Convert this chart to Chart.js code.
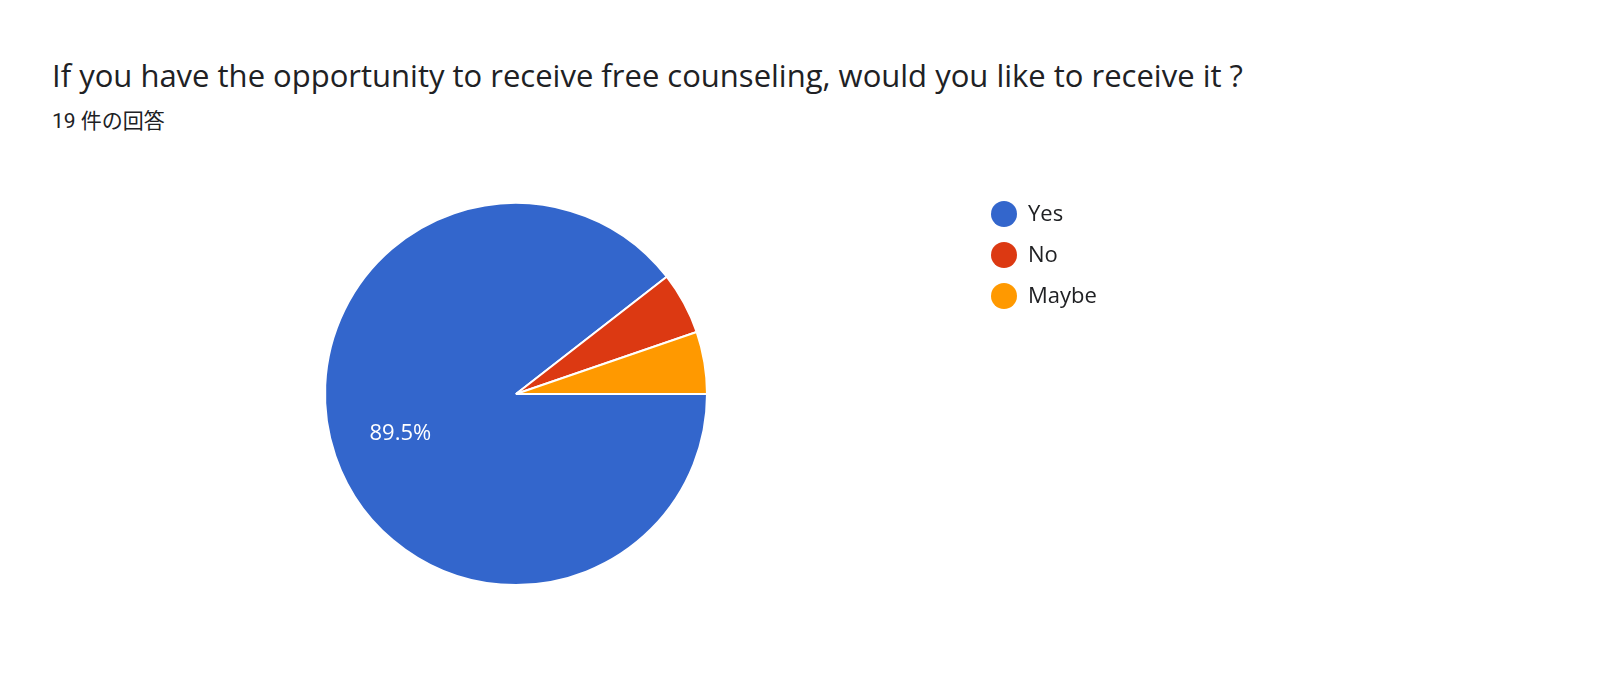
<!DOCTYPE html>
<html><head><meta charset="utf-8">
<script src="https://cdn.jsdelivr.net/npm/chart.js@4"></script>
<style>
html,body{margin:0;padding:0;background:#fff;width:1600px;height:673px;overflow:hidden;font-family:"Open Sans","Noto Sans CJK JP",sans-serif;}
#t{position:absolute;left:52px;top:54px;font-size:31px;color:#202124;white-space:nowrap;}
#s{position:absolute;left:52px;top:104px;font-size:21px;color:#202124;font-family:Roboto,"Noto Sans CJK JP",sans-serif;}
#w{position:absolute;left:0;top:0;width:1600px;height:673px;}
</style></head><body>
<div id="t">If you have the opportunity to receive free counseling, would you like to receive it ?</div>
<div id="s">19 件の回答</div>
<div id="w"><canvas id="c"></canvas></div>
<script>
const categories = ["Yes","No","Maybe"];
const counts = [17,1,1];
const colors = ["#3366cc","#dc3912","#ff9900"];
const total = counts.reduce((a,b)=>a+b,0);
const labelPlugin = {
  id:'lbl',
  afterDatasetsDraw(chart){
    const ctx=chart.ctx; const meta=chart.getDatasetMeta(0);
    meta.data.forEach((arc,i)=>{
      const pct=counts[i]/total*100; if(pct<10) return;
      const a=(arc.startAngle+arc.endAngle)/2, r=arc.outerRadius*0.64;
      ctx.save(); ctx.fillStyle='#fff'; ctx.font='22px "Open Sans", Arial'; ctx.textAlign='center'; ctx.textBaseline='middle';
      ctx.fillText(pct.toFixed(1)+'%', arc.x+Math.cos(a)*r, arc.y+Math.sin(a)*r); ctx.restore();
    });
    ctx.save(); ctx.font='22px "Open Sans", Arial'; ctx.textBaseline='middle';
    categories.forEach((c,i)=>{
      const y=214+i*41;
      ctx.fillStyle=colors[i]; ctx.beginPath(); ctx.arc(1004,y,13,0,Math.PI*2); ctx.fill();
      ctx.fillStyle='#202124'; ctx.fillText(c,1028,y+1);
    });
    ctx.restore();
  }
};
new Chart(document.getElementById('c'),{
  type:'pie',
  data:{labels:categories,datasets:[{data:counts,backgroundColor:colors,borderColor:'#fff',borderWidth:2}]},
  options:{responsive:true,maintainAspectRatio:false,animation:false,rotation:90,
    layout:{padding:{left:324,right:892,top:202,bottom:87}},
    plugins:{legend:{display:false},tooltip:{enabled:false}}},
  plugins:[labelPlugin]
});
</script>
</body></html>
